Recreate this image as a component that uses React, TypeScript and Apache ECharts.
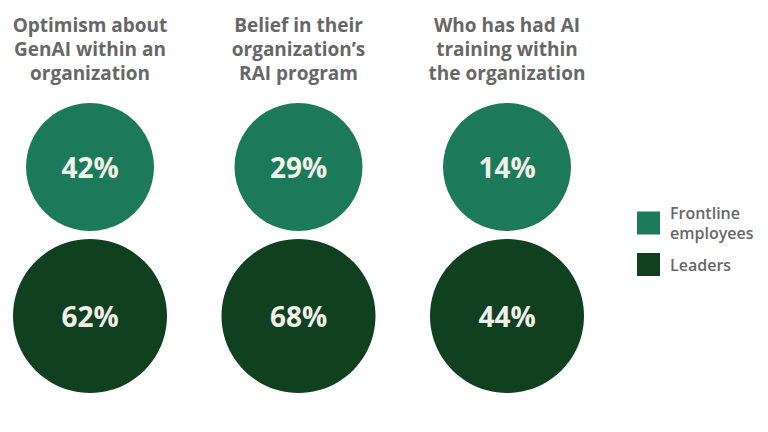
import React, { useEffect, useRef } from "react";
import * as echarts from "echarts";

const columnTitles = [
  "Optimism about\nGenAI within an\norganization",
  "Belief in their\norganization’s\nRAI program",
  "Who has had AI\ntraining within\nthe organization",
];
const seriesNames = ["Frontline employees", "Leaders"];
const frontlineValues = [42, 29, 14];
const leaderValues = [62, 68, 44];
const colors = ["#1c7a5a", "#10401f"];

export default function App() {
  const ref = useRef<HTMLDivElement>(null);
  useEffect(() => {
    if (!ref.current) return;
    const chart = echarts.init(ref.current, null, { renderer: "svg" });
    const font = "'Open Sans', sans-serif";
    const mk = (vals: number[], row: number) => vals.map((v, i) => [i, row, v]);
    const valueLabel = {
      show: true,
      position: "inside",
      formatter: (p: any) => p.value[2] + "%",
      fontFamily: font,
      fontSize: 28,
      fontWeight: 700,
      color: "#f2f1e9",
    };
    chart.setOption({
      animation: false,
      backgroundColor: "#ffffff",
      textStyle: { fontFamily: font },
      grid: { left: 90, right: 261, top: 92.5, bottom: 41.5 },
      xAxis: {
        type: "value",
        min: 0,
        max: 2,
        interval: 1,
        position: "top",
        axisLine: { show: false },
        axisTick: { show: false },
        splitLine: { show: false },
        axisLabel: {
          margin: 8,
          fontFamily: font,
          fontSize: 19,
          fontWeight: 700,
          lineHeight: 24,
          color: "#676767",
          formatter: (v: number) => columnTitles[v] ?? "",
        },
      },
      yAxis: {
        type: "value",
        min: -0.5,
        max: 1.5,
        show: false,
      },
      legend: {
        orient: "vertical",
        left: 632,
        top: 198,
        itemWidth: 23,
        itemHeight: 23,
        itemGap: 10,
        icon: "rect",
        data: seriesNames,
        formatter: (n: string) => n.replace(" ", "\n"),
        textStyle: {
          fontFamily: font,
          fontSize: 16,
          fontWeight: 600,
          lineHeight: 20,
          color: "#676767",
          padding: [0, 0, 0, 5],
        },
      },
      series: [
        {
          name: seriesNames[0],
          type: "scatter",
          clip: false,
          symbol: "circle",
          symbolSize: 128,
          itemStyle: { color: colors[0], opacity: 1 },
          data: mk(frontlineValues, 1),
          label: valueLabel,
        },
        {
          name: seriesNames[1],
          type: "scatter",
          clip: false,
          symbol: "circle",
          symbolSize: 154,
          itemStyle: { color: colors[1], opacity: 1 },
          data: mk(leaderValues, 0),
          label: valueLabel,
        },
      ],
    });
    return () => chart.dispose();
  }, []);
  return (
    <div
      ref={ref}
      style={{ position: "fixed", left: 0, top: 0, width: 768, height: 432, background: "#fff" }}
    />
  );
}
